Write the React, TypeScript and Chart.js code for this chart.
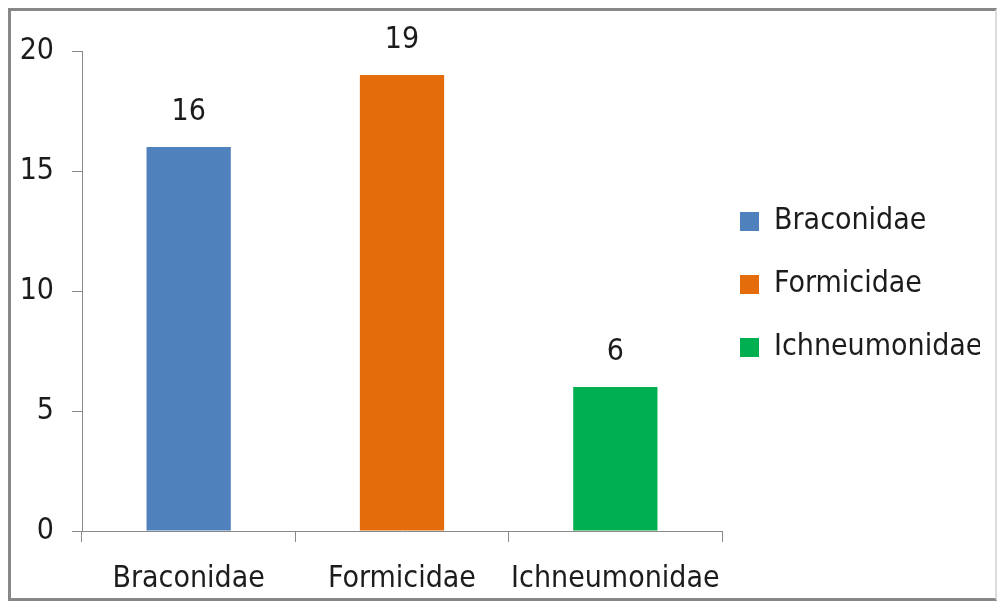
import React, { useEffect, useRef } from "react";
import { Chart, registerables } from "chart.js";

Chart.register(...registerables);

const categories = ["Braconidae", "Formicidae", "Ichneumonidae"];
const counts = [16, 19, 6];
const barColors = ["#4F81BD", "#E46C0A", "#00B050"];
const yTicks = [0, 5, 10, 15, 20];

const FONT = "'Liberation Sans Narrow', 'DejaVu Sans Condensed', 'Liberation Sans', sans-serif";
const FS = 30;
const TEXT = "#1c1c1c";
const AXIS = "#8a8a8a";

const valueLabels = {
  id: "valueLabels",
  afterDatasetsDraw(chart: any) {
    const ctx = chart.ctx;
    const meta = chart.getDatasetMeta(0);
    ctx.save();
    ctx.font = `${FS}px ${FONT}`;
    ctx.fillStyle = TEXT;
    ctx.textAlign = "center";
    ctx.textBaseline = "alphabetic";
    meta.data.forEach((el: any, i: number) => {
      ctx.fillText(String(chart.data.datasets[0].data[i]), el.x, el.y - 27);
    });
    ctx.restore();
  },
};

const legendShift = {
  id: "legendShift",
  afterLayout(chart: any) {
    const lg = chart.legend;
    if (!lg) return;
    lg.left -= 15;
    lg.right -= 15;
    lg.top -= 6.5;
    lg.bottom -= 6.5;
  },
};

export default function App() {
  const ref = useRef<HTMLCanvasElement>(null);
  useEffect(() => {
    if (!ref.current) return;
    const chart = new Chart(ref.current, {
      type: "bar",
      data: {
        labels: categories,
        datasets: [
          {
            label: "Count",
            data: counts,
            backgroundColor: barColors,
            borderWidth: 0,
            categoryPercentage: 1,
            barPercentage: 0.395,
          },
        ],
      },
      options: {
        responsive: false,
        animation: false,
        layout: { padding: { top: 40, right: 0, bottom: 0, left: 0 } },
        plugins: {
          tooltip: { enabled: false },
          legend: {
            position: "right",
            fullSize: false,
            maxWidth: 273,
            labels: {
              font: { family: FONT, size: FS },
              color: TEXT,
              boxWidth: 19,
              boxHeight: 19,
              padding: 33,
              generateLabels: () =>
                categories.map((c, i) => ({
                  text: c,
                  fillStyle: barColors[i],
                  strokeStyle: barColors[i],
                  lineWidth: 0,
                  hidden: false,
                  index: i,
                  datasetIndex: 0,
                  fontColor: TEXT,
                })),
            },
          },
        },
        scales: {
          x: {
            grid: {
              drawOnChartArea: false,
              drawTicks: true,
              tickLength: 11,
              color: AXIS,
              offset: true,
            },
            border: { color: AXIS, width: 1 },
            ticks: {
              font: { family: FONT, size: FS },
              color: TEXT,
              padding: 19,
              maxRotation: 0,
              autoSkip: false,
            },
            afterFit(scale: any) {
              scale.height = 67;
            },
          },
          y: {
            min: 0,
            max: 20,
            afterBuildTicks(scale: any) {
              scale.ticks = yTicks.map((v) => ({ value: v }));
            },
            grid: {
              drawOnChartArea: false,
              drawTicks: true,
              tickLength: 10,
              color: AXIS,
            },
            border: { color: AXIS, width: 1 },
            ticks: {
              font: { family: FONT, size: FS },
              color: TEXT,
              padding: 18,
            },
            afterFit(scale: any) {
              scale.width = 71;
            },
          },
        },
      },
      plugins: [valueLabels, legendShift],
    });
    return () => chart.destroy();
  }, []);

  return (
    <div
      style={{
        position: "absolute",
        left: 8,
        top: 8,
        width: 989,
        height: 593,
        boxSizing: "border-box",
        borderLeft: "3px solid #878787",
        borderTop: "3px solid #878787",
        borderBottom: "3px solid #878787",
        borderRight: "2px solid #dcdcdc",
        background: "#fff",
      }}
    >
      <canvas ref={ref} width={984} height={587} style={{ display: "block" }} />
    </div>
  );
}
